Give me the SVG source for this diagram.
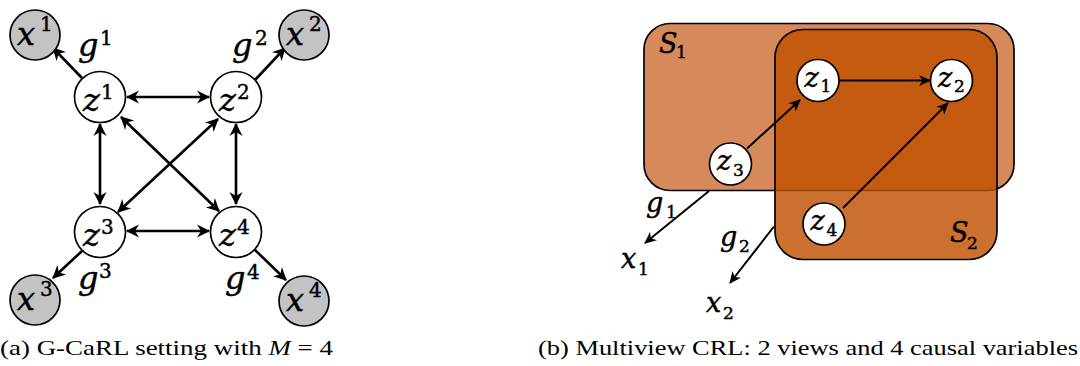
<svg xmlns="http://www.w3.org/2000/svg" width="1080" height="366" viewBox="0 0 1080 366">
<style>
.m{font-family:"DejaVu Serif",serif;font-style:italic;fill:#000;stroke:#000;stroke-width:0.45}
.L{font-size:32px}
.Ls{font-size:20px;font-style:normal}
.R{font-size:27px}
.Rs{font-size:17px;font-style:normal}
.cap{font-family:"Liberation Serif",serif;font-size:21px;fill:#000}
.zn{fill:#fff;stroke:#000;stroke-width:1.7}
.xn{fill:#c3c3c3;stroke:#000;stroke-width:1.7}
.ed{fill:none;stroke:#000;stroke-width:2.6}
.ed2{fill:none;stroke:#000;stroke-width:2}
</style>
<defs>
<marker id="ah" viewBox="-14 -8 16 16" refX="0" refY="0" markerWidth="16" markerHeight="16" markerUnits="userSpaceOnUse" orient="auto-start-reverse">
<path d="M1,0 L-12,-6.5 L-8,0 L-12,6.5 Z" fill="#000"/>
</marker>
<marker id="ah2" viewBox="-14 -8 16 16" refX="0" refY="0" markerWidth="16" markerHeight="16" markerUnits="userSpaceOnUse" orient="auto">
<path d="M1,0 L-11,-5.5 L-7.5,0 L-11,5.5 Z" fill="#000"/>
</marker>
</defs>

<!-- Panel (a) -->
<g id="edges-a">
<line class="ed" x1="127" y1="97" x2="209" y2="97" marker-start="url(#ah)" marker-end="url(#ah)"/>
<line class="ed" x1="127" y1="231" x2="209" y2="231" marker-start="url(#ah)" marker-end="url(#ah)"/>
<line class="ed" x1="100" y1="124" x2="100" y2="204" marker-start="url(#ah)" marker-end="url(#ah)"/>
<line class="ed" x1="236" y1="124" x2="236" y2="204" marker-start="url(#ah)" marker-end="url(#ah)"/>
<line class="ed" x1="121" y1="117" x2="219" y2="211" marker-start="url(#ah)" marker-end="url(#ah)"/>
<line class="ed" x1="218" y1="119" x2="118" y2="212" marker-start="url(#ah)" marker-end="url(#ah)"/>
<line class="ed" x1="82" y1="78" x2="53" y2="48" marker-end="url(#ah)"/>
<line class="ed" x1="255" y1="80" x2="285" y2="48" marker-end="url(#ah)"/>
<line class="ed" x1="82" y1="251" x2="53" y2="278" marker-end="url(#ah)"/>
<line class="ed" x1="253" y1="248" x2="286" y2="280" marker-end="url(#ah)"/>
</g>
<g id="z1"><circle class="zn" cx="100" cy="97" r="25.5"/><text class="m L" x="83" y="111">z</text><text class="m Ls" x="101" y="99">1</text></g>
<g id="z2"><circle class="zn" cx="236" cy="97" r="25.5"/><text class="m L" x="219" y="111">z</text><text class="m Ls" x="237" y="99">2</text></g>
<g id="z3"><circle class="zn" cx="100" cy="232" r="25.5"/><text class="m L" x="83" y="246">z</text><text class="m Ls" x="101" y="234">3</text></g>
<g id="z4"><circle class="zn" cx="236" cy="232" r="25.5"/><text class="m L" x="219" y="246">z</text><text class="m Ls" x="237" y="234">4</text></g>
<g id="x1"><circle class="xn" cx="35" cy="35" r="25"/><text class="m L" x="17" y="45">x</text><text class="m Ls" x="40" y="31">1</text></g>
<g id="x2"><circle class="xn" cx="304" cy="35" r="25"/><text class="m L" x="286" y="45">x</text><text class="m Ls" x="309" y="31">2</text></g>
<g id="x3"><circle class="xn" cx="35" cy="300" r="25"/><text class="m L" x="17" y="310">x</text><text class="m Ls" x="40" y="296">3</text></g>
<g id="x4"><circle class="xn" cx="304" cy="301" r="25"/><text class="m L" x="286" y="311">x</text><text class="m Ls" x="309" y="297">4</text></g>
<g id="labels-a">
<text class="m L" x="78" y="56">g</text><text class="m Ls" x="100" y="45">1</text>
<text class="m L" x="232" y="56">g</text><text class="m Ls" x="255" y="45">2</text>
<text class="m L" x="78" y="289">g</text><text class="m Ls" x="99" y="278">3</text>
<text class="m L" x="225" y="289">g</text><text class="m Ls" x="247" y="279">4</text>
</g>

<!-- Panel (b) -->
<g id="S1"><rect x="644" y="23.5" width="370" height="167" rx="26" fill="#d6895a" stroke="#000" stroke-width="1.7"/>
<text class="m R" x="659" y="53">S</text><text class="m Rs" x="676" y="58">1</text></g>
<g id="S2"><rect x="775" y="29.5" width="222" height="230" rx="28" fill="#c05000" fill-opacity="0.82" stroke="#000" stroke-width="1.7"/>
<text class="m R" x="950" y="242">S</text><text class="m Rs" x="967" y="249">2</text></g>
<g id="edges-b">
<line class="ed2" x1="839.5" y1="80.5" x2="930" y2="80.5" marker-end="url(#ah2)"/>
<line class="ed2" x1="747" y1="148.5" x2="800" y2="100" marker-end="url(#ah2)"/>
<line class="ed2" x1="843" y1="208" x2="948" y2="103" marker-end="url(#ah2)"/>
<line class="ed2" x1="709" y1="191" x2="645" y2="243" marker-end="url(#ah2)"/>
<line class="ed2" x1="774" y1="226.5" x2="730" y2="283" marker-end="url(#ah2)"/>
</g>
<g id="nz1"><circle class="zn" cx="818" cy="80.5" r="21"/><text class="m R" x="804.5" y="86.5">z</text><text class="m Rs" x="820.5" y="92">1</text></g>
<g id="nz2"><circle class="zn" cx="951.5" cy="80.5" r="21"/><text class="m R" x="938" y="86.5">z</text><text class="m Rs" x="954" y="92">2</text></g>
<g id="nz3"><circle class="zn" cx="730.5" cy="164" r="21"/><text class="m R" x="717" y="170">z</text><text class="m Rs" x="733" y="175.5">3</text></g>
<g id="nz4"><circle class="zn" cx="824" cy="224" r="21"/><text class="m R" x="810.5" y="230">z</text><text class="m Rs" x="826.5" y="235.5">4</text></g>
<g id="labels-b">
<text class="m R" x="646" y="212">g</text><text class="m Rs" x="666" y="218">1</text>
<text class="m R" x="720" y="246">g</text><text class="m Rs" x="739" y="252">2</text>
<text class="m R" x="621" y="268">x</text><text class="m Rs" x="638" y="275">1</text>
<text class="m R" x="706" y="312">x</text><text class="m Rs" x="723" y="319">2</text>
</g>

<g id="captions">
<text class="cap" x="0" y="355" textLength="333" lengthAdjust="spacingAndGlyphs">(a) G-CaRL setting with <tspan font-style="italic">M</tspan> = 4</text>
<text class="cap" x="538" y="355" textLength="540" lengthAdjust="spacingAndGlyphs">(b) Multiview CRL: 2 views and 4 causal variables</text>
</g>
</svg>
